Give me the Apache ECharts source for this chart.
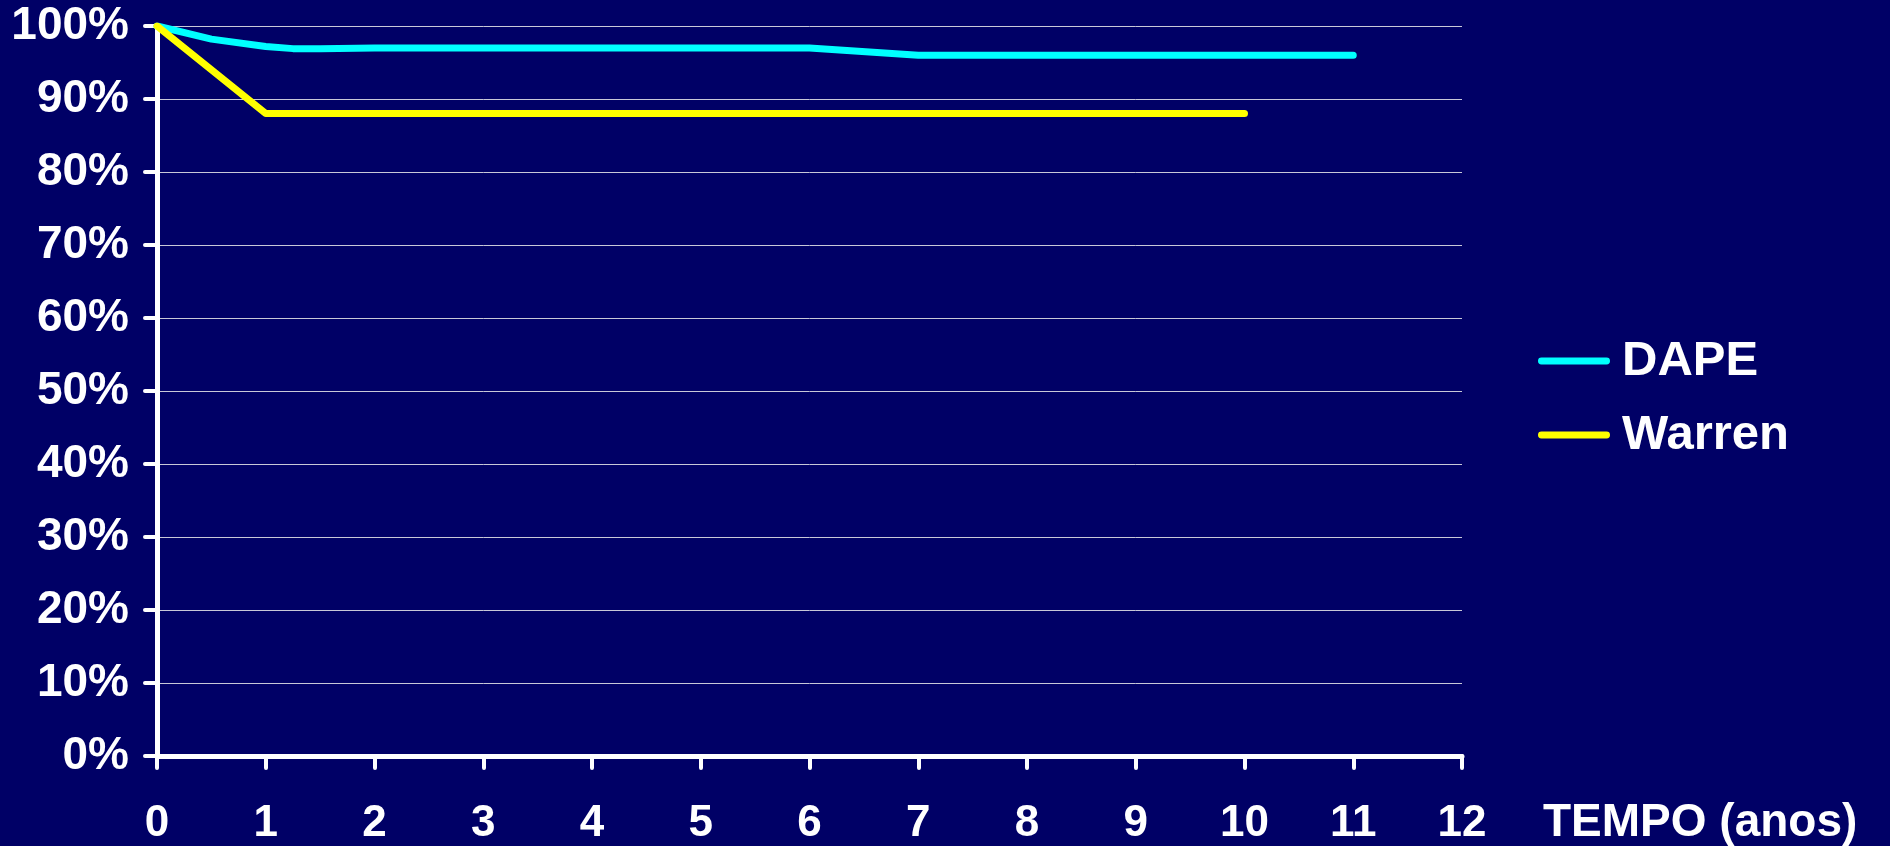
<!DOCTYPE html>
<html>
<head>
<meta charset="utf-8">
<script src="https://cdn.jsdelivr.net/npm/echarts@6/dist/echarts.min.js"></script>
<style>
  html, body { margin: 0; padding: 0; background: #000066; }
  #main { width: 1890px; height: 846px; }
</style>
</head>
<body>
<div id="main"></div>
<script>
// tempo em anos / sobrevida (%)
var dapeYears = [0, 0.5, 1, 1.25, 1.5, 2, 3, 4, 5, 6, 7, 8, 9, 10, 11];
var dapeValues = [100, 98.2, 97.2, 96.9, 96.9, 97, 97, 97, 97, 97, 96, 96, 96, 96, 96];
var warrenYears = [0, 1, 2, 3, 4, 5, 6, 7, 8, 9, 10];
var warrenValues = [100, 88, 88, 88, 88, 88, 88, 88, 88, 88, 88];
var seriesNames = ['DAPE', 'Warren'];
var colors = ['#00ffff', '#ffff00'];

function pairs(xs, ys) {
    var out = [];
    for (var i = 0; i < xs.length; i++) {
        out.push([xs[i], ys[i]]);
    }
    return out;
}

var myChart = echarts.init(document.getElementById('main'));
var font = 'Liberation Sans, Arial, sans-serif';
// traço da legenda com pontas arredondadas
var legendLine = 'path://M3.5,0 L69.5,0 A3.5,3.5 0 0 1 69.5,7 L3.5,7 A3.5,3.5 0 0 1 3.5,0 Z';

myChart.setOption({
    backgroundColor: '#000066',
    animation: false,
    color: colors,
    grid: { left: 157, right: 428, top: 26, bottom: 90, containLabel: false },
    legend: {
        orient: 'vertical',
        left: 1533,
        top: 331,
        icon: legendLine,
        itemWidth: 72,
        itemHeight: 7,
        itemGap: 24,
        data: seriesNames,
        textStyle: { color: '#fff', fontSize: 49, fontWeight: 'bold', fontFamily: font, lineHeight: 50, padding: [0, 0, 0, 7] }
    },
    xAxis: {
        type: 'value',
        min: 0,
        max: 12,
        interval: 1,
        name: 'TEMPO (anos)',
        nameLocation: 'end',
        nameGap: 81,
        nameTextStyle: {
            color: '#fff', fontSize: 46, fontWeight: 'bold', fontFamily: font,
            align: 'left', verticalAlign: 'top', padding: [44, 0, 0, 0]
        },
        axisLine: { lineStyle: { color: '#fff', width: 5, cap: 'round' } },
        axisTick: { show: true, length: 12, inside: false, lineStyle: { color: '#fff', width: 4, cap: 'round' } },
        axisLabel: { color: '#fff', fontSize: 44, fontWeight: 'bold', fontFamily: font, margin: 46 },
        splitLine: { show: false }
    },
    yAxis: {
        type: 'value',
        min: 0,
        max: 100,
        interval: 10,
        axisLine: { show: true, lineStyle: { color: '#fff', width: 5, cap: 'round' } },
        axisTick: { show: true, length: 12, lineStyle: { color: '#fff', width: 4, cap: 'round' } },
        axisLabel: { color: '#fff', fontSize: 46, fontWeight: 'bold', fontFamily: font, margin: 28, formatter: '{value}%' },
        splitLine: { show: true, lineStyle: { color: '#c8c8d8', width: 1 } }
    },
    series: [
        {
            name: seriesNames[0],
            type: 'line',
            symbol: 'none',
            data: pairs(dapeYears, dapeValues),
            lineStyle: { width: 7, cap: 'round', join: 'round' },
            z: 3
        },
        {
            name: seriesNames[1],
            type: 'line',
            symbol: 'none',
            data: pairs(warrenYears, warrenValues),
            lineStyle: { width: 7, cap: 'round', join: 'round' },
            z: 4
        }
    ]
});
</script>
</body>
</html>
